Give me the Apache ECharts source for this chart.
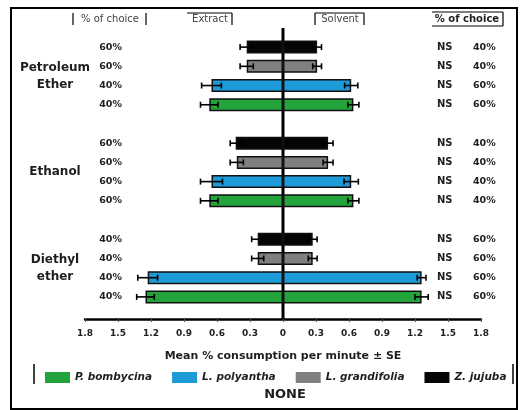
<!DOCTYPE html>
<html>
<head>
<meta charset="utf-8">
<script src="https://cdn.jsdelivr.net/npm/echarts@6/dist/echarts.min.js"></script>
<style>
  html, body { margin: 0; padding: 0; background: #fff; }
  #chart { width: 522px; height: 410px; }
</style>
</head>
<body>
<div id="chart"></div>
<script>
// ---- data (rows top -> bottom) ----
var species = ['P. bombycina', 'L. polyantha', 'L. grandifolia', 'Z. jujuba'];
var speciesColors = ['#22a33b', '#1e9ad8', '#808080', '#050505'];

var rowKeys = ['pe-zj', 'pe-lg', 'pe-lp', 'pe-pb', 'gap1',
               'et-zj', 'et-lg', 'et-lp', 'et-pb', 'gap2',
               'de-zj', 'de-lg', 'de-lp', 'de-pb'];
var rowSpecies = [3, 2, 1, 0, -1, 3, 2, 1, 0, -1, 3, 2, 1, 0];

var extractMean = [0.33, 0.33, 0.65, 0.67, null, 0.43, 0.42, 0.65, 0.67, null, 0.23, 0.23, 1.23, 1.25];
var extractSE   = [0.06, 0.06, 0.09, 0.08, null, 0.05, 0.06, 0.10, 0.08, null, 0.055, 0.055, 0.09, 0.08];
var solventMean = [0.31, 0.31, 0.62, 0.64, null, 0.41, 0.41, 0.62, 0.64, null, 0.27, 0.27, 1.26, 1.26];
var solventSE   = [0.04, 0.04, 0.06, 0.05, null, 0.045, 0.045, 0.065, 0.05, null, 0.04, 0.04, 0.04, 0.06];

var extractChoice = ['60%', '60%', '40%', '40%', '', '60%', '60%', '60%', '60%', '', '40%', '40%', '40%', '40%'];
var solventChoice = ['40%', '40%', '60%', '60%', '', '40%', '40%', '40%', '40%', '', '60%', '60%', '60%', '60%'];
var significance  = ['NS', 'NS', 'NS', 'NS', '', 'NS', 'NS', 'NS', 'NS', '', 'NS', 'NS', 'NS', 'NS'];

var groups = [
  { name: 'Petroleum\nEther', from: 0, to: 3 },
  { name: 'Ethanol', from: 5, to: 8 },
  { name: 'Diethyl\nether', from: 10, to: 13 }
];

var FONT = 'DejaVu Sans';
var TXT = '#1e1e1e';

// ---- series ----
var series = [];
species.forEach(function(sp, k) {
  var style = { color: speciesColors[k], borderColor: '#111', borderWidth: 1.5 };
  series.push({
    name: sp, type: 'bar', stack: 'all', barWidth: 13, itemStyle: style,
    data: rowKeys.map(function(_, i) { return rowSpecies[i] === k ? -extractMean[i] : '-'; })
  });
  series.push({
    name: sp, type: 'bar', stack: 'all', barWidth: 13, itemStyle: style,
    data: rowKeys.map(function(_, i) { return rowSpecies[i] === k ? solventMean[i] : '-'; })
  });
});

var errData = [];
rowKeys.forEach(function(_, i) {
  if (rowSpecies[i] < 0) return;
  errData.push([i, -extractMean[i], extractSE[i]]);
  errData.push([i, solventMean[i], solventSE[i]]);
});

series.push({
  type: 'custom', name: 'se', z: 5, silent: true,
  encode: { x: 1, y: 0 },
  data: errData,
  renderItem: function(params, api) {
    var row = api.value(0), v = api.value(1), se = api.value(2);
    var lo = api.coord([v - se, row]);
    var hi = api.coord([v + se, row]);
    var h = 3;
    var st = { stroke: '#000', lineWidth: 1.6 };
    return {
      type: 'group',
      children: [
        { type: 'line', shape: { x1: lo[0], y1: lo[1], x2: hi[0], y2: hi[1] }, style: st },
        { type: 'line', shape: { x1: lo[0], y1: lo[1] - h, x2: lo[0], y2: lo[1] + h }, style: st },
        { type: 'line', shape: { x1: hi[0], y1: hi[1] - h, x2: hi[0], y2: hi[1] + h }, style: st }
      ]
    };
  }
});

// ---- decorations (headers, frame, center line) ----
function ln(x1, y1, x2, y2, w) {
  return { type: 'line', silent: true, shape: { x1: x1, y1: y1, x2: x2, y2: y2 },
           style: { stroke: '#000', lineWidth: w || 1.2 } };
}
function txt(x, y, s, size, extra) {
  var st = { text: s, x: x, y: y, fill: TXT, font: 'bold ' + size + 'px "' + FONT + '"',
             textAlign: 'center', textVerticalAlign: 'middle' };
  if (extra) for (var k in extra) st[k] = extra[k];
  return { type: 'text', silent: true, style: st, z: 10 };
}

var graphics = [
  { type: 'rect', silent: true, shape: { x: 11, y: 8, width: 506, height: 401 },
    style: { fill: 'none', stroke: '#000', lineWidth: 2 } },
  txt(268, -5, 'B', 18),
  // header labels
  txt(110, 19, '% of choice', 10, { fill: '#444', font: '10px "' + FONT + '"' }),
  ln(73, 13, 73, 25), ln(146, 13, 146, 25),
  txt(210, 19, 'Extract', 10, { fill: '#444', font: '10px "' + FONT + '"' }),
  ln(187, 13, 232, 13), ln(232, 13, 232, 25),
  txt(340, 19, 'Solvent', 10, { fill: '#444', font: '10px "' + FONT + '"' }),
  ln(315, 13, 364, 13), ln(315, 13, 315, 25), ln(364, 13, 364, 25),
  txt(467, 19, '% of choice', 10),
  ln(432, 12, 503, 12), ln(432, 26, 503, 26), ln(503, 12, 503, 26),
  // center line
  ln(283, 28, 283, 319, 3),
  // legend side bars
  ln(34, 364, 34, 384, 1.5), ln(513, 364, 513, 384, 1.5),
  txt(285, 395, 'NONE', 13)
];

var chart = echarts.init(document.getElementById('chart'), null, { renderer: 'canvas' });

var option = {
  backgroundColor: '#fff',
  animation: false,
  textStyle: { fontFamily: FONT },
  grid: { left: 85, right: 41, top: 37.5, bottom: 103.5 },
  legend: {
    data: species,
    left: 40, top: 367,
    itemWidth: 25, itemHeight: 11, itemGap: 20,
    icon: 'rect',
    itemStyle: { borderWidth: 0 },
    textStyle: { fontStyle: 'italic', fontWeight: 'bold', fontSize: 10.5, color: TXT, fontFamily: FONT }
  },
  xAxis: {
    type: 'value', min: -1.8, max: 1.8, interval: 0.3, offset: 12.5,
    splitLine: { show: false },
    axisLine: { show: true, lineStyle: { color: '#000', width: 2.5 } },
    axisTick: { show: true, length: 3, lineStyle: { color: '#555' } },
    axisLabel: {
      margin: 10, fontSize: 9, fontWeight: 'bold', color: TXT,
      formatter: function(v) { var a = Math.abs(v); return a < 1e-9 ? '0' : a.toFixed(1); }
    },
    name: 'Mean % consumption per minute \u00b1 SE',
    nameLocation: 'middle', nameGap: 32,
    nameTextStyle: { fontSize: 11, fontWeight: 'bold', color: TXT }
  },
  yAxis: [
    {
      type: 'category', data: rowKeys, inverse: true, position: 'left', offset: -40,
      axisLine: { show: false }, axisTick: { show: false },
      axisLabel: {
        margin: 3, fontSize: 9.5, fontWeight: 'bold', color: TXT,
        formatter: function(v, i) { return extractChoice[i]; }
      }
    },
    {
      type: 'category', data: rowKeys, inverse: true, position: 'right', offset: -48,
      axisLine: { show: false }, axisTick: { show: false },
      axisLabel: {
        margin: 4, color: TXT,
        formatter: function(v, i) {
          return significance[i] ? '{ns|' + significance[i] + '}{p|' + solventChoice[i] + '}' : '';
        },
        rich: {
          ns: { width: 36, fontSize: 10, fontWeight: 'bold', color: TXT, fontFamily: FONT },
          p: { fontSize: 9.5, fontWeight: 'bold', color: TXT, fontFamily: FONT }
        }
      }
    }
  ],
  series: series,
  graphic: graphics
};

chart.setOption(option);

// group labels centred on their rows
var extra = groups.map(function(g) {
  var y1 = chart.convertToPixel({ yAxisIndex: 0 }, rowKeys[g.from]);
  var y2 = chart.convertToPixel({ yAxisIndex: 0 }, rowKeys[g.to]);
  return txt(55, (y1 + y2) / 2, g.name, 12, { lineHeight: 17 });
});
chart.setOption({ graphic: graphics.concat(extra) });
</script>
</body>
</html>
